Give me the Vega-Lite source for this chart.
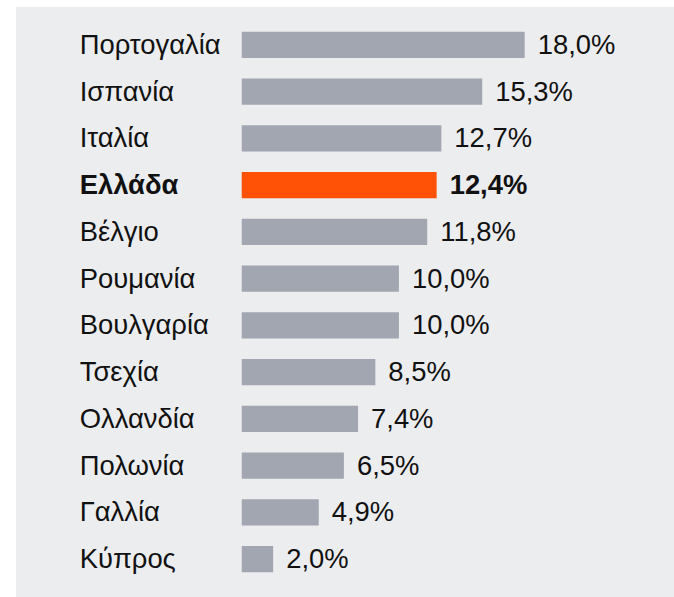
{
  "$schema": "https://vega.github.io/schema/vega-lite/v6.json",
  "autosize": {"type": "none"},
  "width": 658,
  "height": 590,
  "padding": {"left": 16, "top": 7, "right": 0, "bottom": 0},
  "background": "white",
  "config": {
    "view": {"fill": "#ecedef", "stroke": null},
    "text": {"font": "Liberation Sans", "fontSize": 27.4, "color": "#111111"}
  },
  "data": {
    "values": [
      {"country": "Πορτογαλία", "value": 18.0, "highlight": false},
      {"country": "Ισπανία", "value": 15.3, "highlight": false},
      {"country": "Ιταλία", "value": 12.7, "highlight": false},
      {"country": "Ελλάδα", "value": 12.4, "highlight": true},
      {"country": "Βέλγιο", "value": 11.8, "highlight": false},
      {"country": "Ρουμανία", "value": 10.0, "highlight": false},
      {"country": "Βουλγαρία", "value": 10.0, "highlight": false},
      {"country": "Τσεχία", "value": 8.5, "highlight": false},
      {"country": "Ολλανδία", "value": 7.4, "highlight": false},
      {"country": "Πολωνία", "value": 6.5, "highlight": false},
      {"country": "Γαλλία", "value": 4.9, "highlight": false},
      {"country": "Κύπρος", "value": 2.0, "highlight": false}
    ]
  },
  "transform": [
    {"calculate": "replace(format(datum.value, '.1f'), '.', ',') + '%'", "as": "label"}
  ],
  "encoding": {
    "y": {
      "field": "country",
      "type": "nominal",
      "sort": null,
      "axis": null,
      "scale": {"paddingInner": 0.44, "paddingOuter": 0.53}
    }
  },
  "layer": [
    {
      "mark": {"type": "bar"},
      "encoding": {
        "x": {
          "field": "value",
          "type": "quantitative",
          "axis": null,
          "scale": {"domain": [-14.36, 27.5], "nice": false, "zero": false}
        },
        "color": {
          "field": "highlight",
          "type": "nominal",
          "legend": null,
          "scale": {"domain": [false, true], "range": ["#a1a6b1", "#ff5206"]}
        }
      }
    },
    {
      "transform": [{"filter": "!datum.highlight"}],
      "mark": {"type": "text", "align": "left", "baseline": "middle", "dx": 13, "dy": 1},
      "encoding": {
        "x": {"field": "value", "type": "quantitative"},
        "text": {"field": "label"}
      }
    },
    {
      "transform": [{"filter": "datum.highlight"}],
      "mark": {"type": "text", "align": "left", "baseline": "middle", "dx": 13, "dy": 1, "fontWeight": "bold"},
      "encoding": {
        "x": {"field": "value", "type": "quantitative"},
        "text": {"field": "label"}
      }
    },
    {
      "transform": [{"filter": "!datum.highlight"}],
      "mark": {"type": "text", "align": "left", "baseline": "middle", "dy": 1},
      "encoding": {
        "x": {"datum": -10.31},
        "text": {"field": "country"}
      }
    },
    {
      "transform": [{"filter": "datum.highlight"}],
      "mark": {"type": "text", "align": "left", "baseline": "middle", "dy": 1, "fontWeight": "bold"},
      "encoding": {
        "x": {"datum": -10.31},
        "text": {"field": "country"}
      }
    }
  ]
}
